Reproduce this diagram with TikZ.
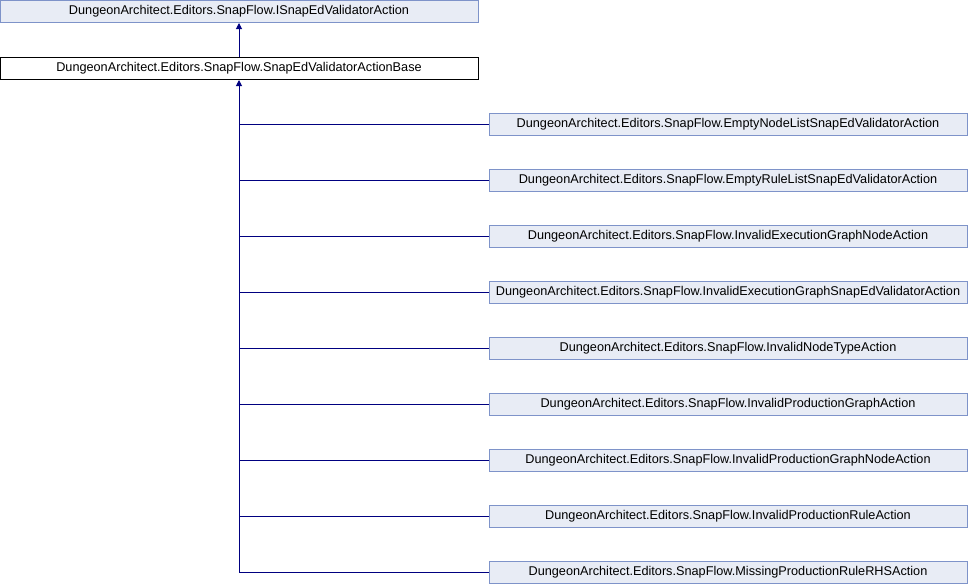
\documentclass[tikz,border=0pt]{standalone}
\usepackage{fontspec}
\setmainfont{Liberation Sans}
\usetikzlibrary{arrows.meta}
\definecolor{edgeblue}{HTML}{000080}
\definecolor{boxfill}{HTML}{E8ECF5}
\definecolor{boxline}{HTML}{7E93C9}
\begin{document}
\begin{tikzpicture}[x=1pt,y=-1pt,
  cls/.style={draw=boxline, fill=boxfill, line width=1pt, minimum width=478pt, minimum height=22pt, inner sep=0pt, font=\fontsize{12.7}{14}\selectfont},
  basecls/.style={cls, draw=black, fill=white},
  inh/.style={draw=edgeblue, line width=1pt},
  tip/.style={-{Triangle[length=6pt,width=6pt]}}]
\useasboundingbox (0,0) rectangle (968,584);
\node[cls] (iface) at (239,11.5) {DungeonArchitect.Editors.SnapFlow.ISnapEdValidatorAction};
\node[basecls] (base) at (239,68.5) {DungeonArchitect.Editors.SnapFlow.SnapEdValidatorActionBase};
\draw[inh,tip] (base.north) -- (iface.south);
\node[cls] (c1) at (728,124) {DungeonArchitect.Editors.SnapFlow.EmptyNodeListSnapEdValidatorAction};
\node[cls] (c2) at (728,180) {DungeonArchitect.Editors.SnapFlow.EmptyRuleListSnapEdValidatorAction};
\node[cls] (c3) at (728,236) {DungeonArchitect.Editors.SnapFlow.InvalidExecutionGraphNodeAction};
\node[cls] (c4) at (728,292) {DungeonArchitect.Editors.SnapFlow.InvalidExecutionGraphSnapEdValidatorAction};
\node[cls] (c5) at (728,348) {DungeonArchitect.Editors.SnapFlow.InvalidNodeTypeAction};
\node[cls] (c6) at (728,404) {DungeonArchitect.Editors.SnapFlow.InvalidProductionGraphAction};
\node[cls] (c7) at (728,460) {DungeonArchitect.Editors.SnapFlow.InvalidProductionGraphNodeAction};
\node[cls] (c8) at (728,516) {DungeonArchitect.Editors.SnapFlow.InvalidProductionRuleAction};
\node[cls] (c9) at (728,572) {DungeonArchitect.Editors.SnapFlow.MissingProductionRuleRHSAction};
\coordinate (corner) at (base.south |- c9.west);
\draw[inh,tip] (c9.west) -- (corner) -- (base.south);
\foreach \i in {1,...,8} {
  \draw[inh] (c\i.west) -- (base.south |- c\i.west);
}
\end{tikzpicture}
\end{document}
